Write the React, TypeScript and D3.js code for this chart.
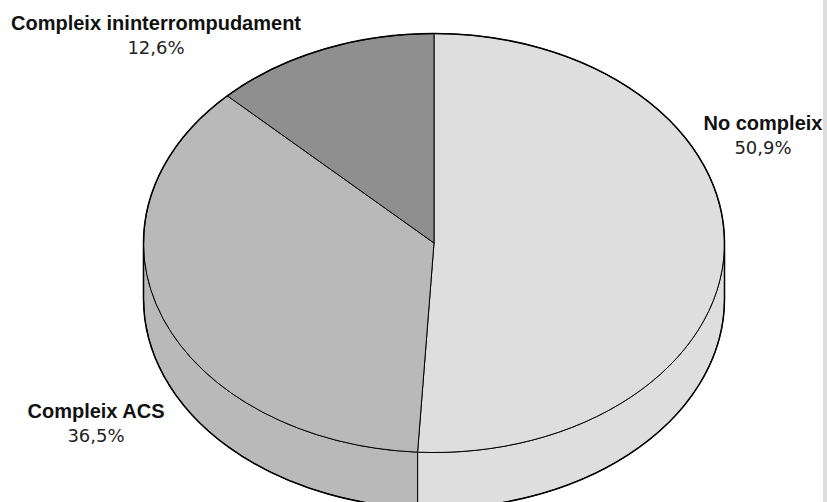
import { useMemo } from 'react';
import { pie, scaleOrdinal, format } from 'd3';

// slices, clockwise from 12 o'clock
const categories = ['No compleix', 'Compleix ACS', 'Compleix ininterrompudament'];
const values = [50.9, 36.5, 12.6];
const sliceColors = ['#dedede', '#b9b9b9', '#8f8f8f'];

// label anchors (center x, baseline y of the name line)
const labelAnchors: [number, number][] = [
  [763, 130],
  [96, 418],
  [156, 30],
];

const width = 827;
const height = 502;
const cx = 434;
const cy = 243;
const rx = 290.5;
const ry = 209.5;
const depth = 56;

const pt = (a: number, dy = 0): [number, number] => [cx + rx * Math.sin(a), cy - ry * Math.cos(a) + dy];

export default function App() {
  const color = scaleOrdinal<string, string>().domain(categories).range(sliceColors);
  const fmt = format('.1f');

  const arcs = useMemo(
    () =>
      pie<number>()
        .sort(null)
        .value((d) => d)(values),
    []
  );

  const topPath = (a0: number, a1: number) => {
    const [x0, y0] = pt(a0);
    const [x1, y1] = pt(a1);
    const large = a1 - a0 > Math.PI ? 1 : 0;
    return `M${cx},${cy}L${x0},${y0}A${rx},${ry} 0 ${large} 1 ${x1},${y1}Z`;
  };

  const sidePath = (a0: number, a1: number) => {
    const s = Math.max(a0, Math.PI / 2);
    const e = Math.min(a1, (3 * Math.PI) / 2);
    if (e <= s) return null;
    const [x0, y0] = pt(s);
    const [x1, y1] = pt(e);
    const [bx1, by1] = pt(e, depth);
    const [bx0, by0] = pt(s, depth);
    return `M${x0},${y0}A${rx},${ry} 0 0 1 ${x1},${y1}L${bx1},${by1}A${rx},${ry} 0 0 0 ${bx0},${by0}Z`;
  };

  const [lx, ly] = pt(-Math.PI / 2);
  const [rxp, ryp] = pt(Math.PI / 2);
  const outline = `M${lx},${ly}A${rx},${ry} 0 0 1 ${rxp},${ryp}L${rxp},${ryp + depth}A${rx},${ry} 0 0 1 ${lx},${ly + depth}Z`;

  return (
    <svg
      width={width}
      height={height}
      style={{ position: 'fixed', left: 0, top: 0, background: '#fff' }}
      fontFamily="'Liberation Sans', Arial, sans-serif"
    >
      <rect x={823} y={0} width={4} height={height} fill="#dcdcdc" />
      {arcs.map((a, i) => {
        const d = sidePath(a.startAngle, a.endAngle);
        return d ? <path key={`s${i}`} d={d} fill={color(categories[i])} stroke="#000" strokeWidth={1} /> : null;
      })}
      {arcs.map((a, i) => (
        <path key={`t${i}`} d={topPath(a.startAngle, a.endAngle)} fill={color(categories[i])} stroke="#000" strokeWidth={1} strokeLinejoin="round" />
      ))}
      <path d={outline} fill="none" stroke="#000" strokeWidth={1.5} />
      {categories.map((c, i) => (
        <g key={c} textAnchor="middle">
          <text x={labelAnchors[i][0]} y={labelAnchors[i][1]} fontSize={20} fontWeight="bold" fill="#111">
            {c}
          </text>
          <text x={labelAnchors[i][0]} y={labelAnchors[i][1] + 24} fontSize={18} fontFamily="'DejaVu Sans', sans-serif" fill="#222">
            {fmt(values[i]).replace('.', ',')}%
          </text>
        </g>
      ))}
    </svg>
  );
}
